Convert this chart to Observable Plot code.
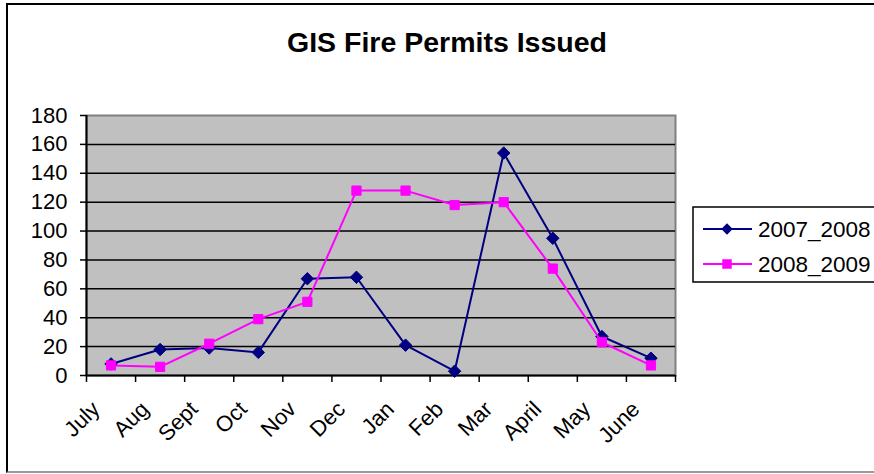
<!DOCTYPE html>
<html><head><meta charset="utf-8">
<script src="https://cdn.jsdelivr.net/npm/d3@7"></script>
<script src="https://cdn.jsdelivr.net/npm/@observablehq/plot@0.6"></script>
<style>
body{margin:0;background:#fff;overflow:hidden}
#wrap{position:relative;width:874px;height:474px;overflow:hidden}
#border{position:absolute;left:6px;top:3px;width:900px;height:466px;border-left:2px solid #000;border-top:2px solid #000;border-bottom:2px solid #9a9a9a}
#wrap svg{position:absolute;left:0;top:0}
</style></head><body><div id="wrap"><div id="border"></div></div>
<script>
const title = "GIS Fire Permits Issued";
const months = ["July","Aug","Sept","Oct","Nov","Dec","Jan","Feb","Mar","April","May","June"];
const seriesNames = ["2007_2008","2008_2009"];
const values2007 = [8,18,19,16,67,68,21,3,154,95,27,12];
const values2008 = [7,6,22,39,51,128,128,118,120,74,23,7];
const colors = ["#000080","#FF00FF"];
const yTicks = [0,20,40,60,80,100,120,140,160,180];

const font = "'Liberation Sans', Arial, sans-serif";
const xi = (d,i) => i + 0.5;

const chart = Plot.plot({
  width: 874, height: 474,
  marginLeft: 86, marginRight: 199, marginTop: 115, marginBottom: 99,
  style: {fontFamily: font, fontSize: "22px", background: "transparent", color: "#000", overflow: "visible"},
  x: {type: "linear", domain: [0, months.length]},
  y: {domain: [0, 180]},
  marks: [
    Plot.frame({fill: "#C0C0C0", stroke: "#808080", strokeWidth: 2}),
    Plot.ruleY(yTicks.filter(t => t > 0 && t < 180), {stroke: "#000", strokeWidth: 1.5}),
    Plot.ruleX([0], {stroke: "#000", strokeWidth: 2}),
    Plot.ruleY([0], {stroke: "#000", strokeWidth: 2}),
    Plot.axisY({ticks: yTicks, tickSize: 6, tickPadding: 13, fontSize: 22, strokeWidth: 1.5, tickFormat: d => d, label: null}),
    Plot.axisX({ticks: d3.range(months.length + 1), tickSize: 7, strokeWidth: 1.5, tickFormat: () => "", label: null}),
    Plot.text(months, {x: xi, y: () => 0, text: d => d, rotate: -45, textAnchor: "end", lineAnchor: "middle", dx: -15, dy: 30, fontSize: 22, fill: "#000"}),
    Plot.line(values2007, {x: xi, y: d => d, stroke: colors[0], strokeWidth: 2}),
    Plot.dot(values2007, {x: xi, y: d => d, symbol: "diamond2", r: 5.6, fill: colors[0], stroke: colors[0], strokeWidth: 1}),
    Plot.line(values2008, {x: xi, y: d => d, stroke: colors[1], strokeWidth: 2}),
    Plot.dot(values2008, {x: xi, y: d => d, symbol: "square", r: 5.2, fill: colors[1], stroke: colors[1], strokeWidth: 1})
  ]
});
document.getElementById("wrap").appendChild(chart);

const svg = d3.select(chart);
svg.selectAll("text").style("font-size", "22px").style("font-family", font);

svg.append("text")
  .attr("x", 447).attr("y", 52)
  .attr("text-anchor", "middle")
  .style("font-family", font).style("font-size", "28.5px").style("font-weight", "bold")
  .attr("fill", "#000")
  .text(title);

const lg = svg.append("g");
lg.append("rect").attr("x", 693).attr("y", 207).attr("width", 220).attr("height", 75)
  .attr("fill", "#fff").attr("stroke", "#000").attr("stroke-width", 1.5);
const symbols = [d3.symbolDiamond2, d3.symbolSquare];
const sizes = [85, 90];
seriesNames.forEach((name, k) => {
  const cy = 229 + k * 35;
  lg.append("line").attr("x1", 703).attr("x2", 752).attr("y1", cy).attr("y2", cy)
    .attr("stroke", colors[k]).attr("stroke-width", 2);
  lg.append("path").attr("d", d3.symbol(symbols[k], sizes[k])())
    .attr("transform", `translate(727,${cy})`).attr("fill", colors[k]);
  lg.append("text").attr("x", 758).attr("y", cy).attr("dy", "0.35em")
    .attr("text-anchor", "start")
    .style("font-family", font).style("font-size", "22.5px").attr("fill", "#000").text(name);
});
</script></body></html>
